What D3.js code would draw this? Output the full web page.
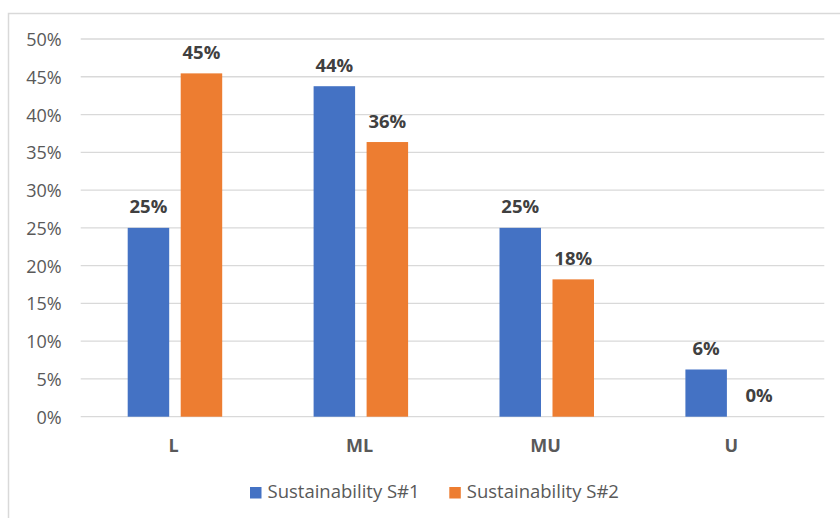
<!DOCTYPE html>
<html>
<head>
<meta charset="utf-8">
<script src="https://cdn.jsdelivr.net/npm/d3@7"></script>
<style>
  html, body { margin: 0; padding: 0; background: #fff; }
  svg { display: block; }
</style>
</head>
<body>
<svg id="chart" width="840" height="518"></svg>
<script>
const categories = ["L", "ML", "MU", "U"];
const seriesNames = ["Sustainability S#1", "Sustainability S#2"];
const seriesS1 = [0.25, 0.4375, 0.25, 0.0625];
const seriesS2 = [0.4545, 0.3636, 0.1818, 0.0];
const yTicks = [0, 0.05, 0.10, 0.15, 0.20, 0.25, 0.30, 0.35, 0.40, 0.45, 0.50];
const colors = ["#4472C4", "#ED7D31"];

(function () {
const svg = d3.select("#chart");
const font = "'Open Sans', 'Noto Sans', sans-serif";

// chart border
svg.append("rect")
  .attr("x", 8.5).attr("y", 13.5)
  .attr("width", 840).attr("height", 540)
  .attr("fill", "none").attr("stroke", "#d9d9d9").attr("stroke-width", 1.5);

const pLeft = 80.7, pRight = 824.3, pTop = 39, pBottom = 416.7;
const y = d3.scaleLinear().domain([0, 0.5]).range([pBottom, pTop]);
const x0 = d3.scaleBand().domain(categories).range([pLeft, pRight]).padding(0);
const x1 = d3.scaleBand().domain(seriesNames).range([47, 141.5]).paddingInner(0.217).paddingOuter(0);

// gridlines
svg.append("g").selectAll("line").data(yTicks).join("line")
  .attr("x1", pLeft).attr("x2", pRight)
  .attr("y1", d => y(d)).attr("y2", d => y(d))
  .attr("stroke", "#d9d9d9").attr("stroke-width", 1.3);

// y tick labels
svg.append("g").selectAll("text").data(yTicks).join("text")
  .attr("x", 61.7).attr("y", d => y(d) + 7)
  .attr("text-anchor", "end")
  .attr("font-family", font).attr("font-size", 18).attr("fill", "#595959")
  .text(d => d3.format(".0%")(d));

const data = [];
categories.forEach((c, i) => {
  data.push({ cat: c, s: seriesNames[0], v: seriesS1[i], k: 0 });
  data.push({ cat: c, s: seriesNames[1], v: seriesS2[i], k: 1 });
});

// bars
svg.append("g").selectAll("rect").data(data).join("rect")
  .attr("x", d => x0(d.cat) + x1(d.s))
  .attr("width", x1.bandwidth())
  .attr("y", d => y(d.v))
  .attr("height", d => y(0) - y(d.v))
  .attr("fill", d => colors[d.k]);

// data labels
svg.append("g").selectAll("text").data(data).join("text")
  .attr("x", d => x0(d.cat) + x1(d.s) + x1.bandwidth() / 2)
  .attr("y", d => y(d.v) - 14.5)
  .attr("text-anchor", "middle")
  .attr("font-family", font).attr("font-size", 18.5).attr("font-weight", "bold")
  .attr("fill", "#404040")
  .text(d => d3.format(".0%")(d.v));

// x axis labels
svg.append("g").selectAll("text").data(categories).join("text")
  .attr("x", d => x0(d) + x0.bandwidth() / 2)
  .attr("y", 452)
  .attr("text-anchor", "middle")
  .attr("font-family", font).attr("font-size", 18).attr("font-weight", "bold")
  .attr("fill", "#595959")
  .text(d => d);

// legend
const legendX = [250, 449.3];
const lg = svg.append("g").selectAll("g").data(seriesNames).join("g")
  .attr("transform", (d, i) => `translate(${legendX[i]},0)`);
lg.append("rect").attr("x", 0).attr("y", 487).attr("width", 11.5).attr("height", 11.5)
  .attr("fill", (d, i) => colors[i]);
lg.append("text").attr("x", 17.5).attr("y", 497.5)
  .attr("font-family", font).attr("font-size", 18.5).attr("fill", "#595959")
  .text(d => d);
})();
</script>
</body>
</html>
